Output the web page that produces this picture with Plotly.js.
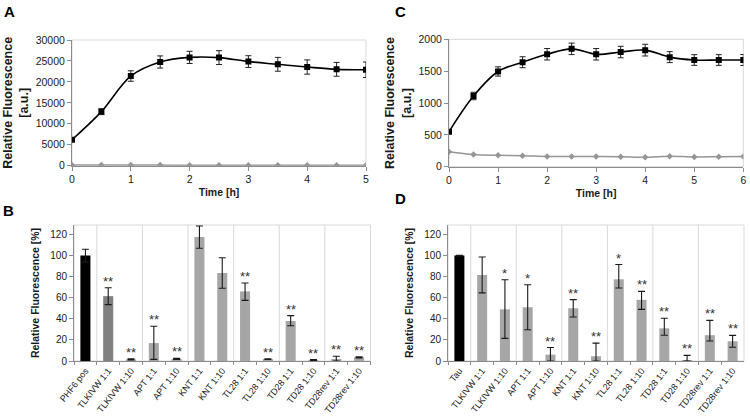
<!DOCTYPE html>
<html>
<head>
<meta charset="utf-8">
<script src="https://cdn.plot.ly/plotly-3.0.1.min.js"></script>
<style>html,body{margin:0;padding:0;background:#fff;}#chart{width:750px;height:416px;}</style>
</head>
<body>
<div id="chart"></div>
<script>
// ---- Panel A data ----
const timeA = [0, 0.5, 1, 1.5, 2, 2.5, 3, 3.5, 4, 4.5, 5];
const blackA = [6200, 12900, 21400, 24750, 25850, 25800, 24850, 24200, 23550, 23000, 22900];
const blackErrA = [300, 700, 1250, 1450, 1450, 1650, 1400, 1650, 1700, 1650, 1850];
const grayA = [150, 140, 140, 140, 130, 130, 130, 130, 120, 130, 120];

// ---- Panel C data ----
const timeC = [0, 0.5, 1, 1.5, 2, 2.5, 3, 3.5, 4, 4.5, 5, 5.5, 6];
const blackC = [550, 1110, 1495, 1640, 1765, 1850, 1765, 1800, 1830, 1720, 1675, 1675, 1675];
const blackErrC = [30, 58, 73, 86, 90, 90, 90, 90, 92, 86, 84, 84, 86];
const grayC = [235, 190, 178, 173, 162, 160, 160, 158, 147, 165, 152, 157, 160];

// ---- Panel B data ----
const catsB = ['PHF6 pos', 'TLKIVW 1:1', 'TLKIVW 1:10', 'APT 1:1', 'APT 1:10', 'KNT 1:1', 'KNT 1:10',
  'TL28 1:1', 'TL28 1:10', 'TD28 1:1', 'TD28 1:10', 'TD28rev 1:1', 'TD28rev 1:10'];
const valsB = [100, 61.5, 1.5, 17, 2, 117.5, 83.5, 66, 1.8, 38, 1, 2, 3.5];
const errPlusB = [6, 8, 0.5, 16, 0.5, 10.5, 14.5, 8, 0.4, 5, 0.4, 2.5, 0.5];
const errMinusB = [6, 8, 0.5, 15.5, 0.5, 10.5, 14.5, 8.5, 0.4, 4.5, 0.4, 2, 0.5];
const starsB = ['', '**', '**', '**', '**', '', '', '**', '**', '**', '**', '**', '**'];
const colorsB = ['#000000', '#808080', '#a6a6a6', '#a6a6a6', '#a6a6a6', '#a6a6a6', '#a6a6a6',
  '#a6a6a6', '#a6a6a6', '#a6a6a6', '#a6a6a6', '#a6a6a6', '#a6a6a6'];

// ---- Panel D data ----
const catsD = ['Tau', 'TLKIVW 1:1', 'TLKIVW 1:10', 'APT 1:1', 'APT 1:10', 'KNT 1:1', 'KNT 1:10',
  'TL28 1:1', 'TL28 1:10', 'TD28 1:1', 'TD28 1:10', 'TD28rev 1:1', 'TD28rev 1:10'];
const valsD = [100, 81.6, 49, 51, 6, 50, 4.5, 77.5, 58, 31, 1, 24.5, 18.7];
const errPlusD = [0.3, 17, 28, 21.3, 6.8, 8.2, 12.5, 14, 8, 9.6, 4.3, 14, 5.6];
const errMinusD = [0.3, 17, 27.5, 21.3, 6, 8.2, 4.5, 8.2, 9, 6.6, 1, 5.5, 5.6];
const starsD = ['', '', '*', '*', '**', '**', '**', '*', '**', '**', '**', '**', '**'];
const colorsD = ['#000000', '#a6a6a6', '#a6a6a6', '#a6a6a6', '#a6a6a6', '#a6a6a6', '#a6a6a6',
  '#a6a6a6', '#a6a6a6', '#a6a6a6', '#a6a6a6', '#a6a6a6', '#a6a6a6'];

const FONT = 'Liberation Sans, Arial, sans-serif';
const AXC = '#8c8c8c';
const FRAME = '#d9d9d9';
const W = 750, H = 416;
const px = (a, b) => [a / W, b / W];
const py = (top, bottom) => [1 - bottom / H, 1 - top / H];

function lineTraces(x, yb, eb, yg, xa, ya) {
  return [
    {x: x, y: yg, xaxis: xa, yaxis: ya, type: 'scatter', mode: 'lines+markers',
     line: {color: '#969696', width: 1.5, shape: 'spline', smoothing: 1},
     marker: {symbol: 'diamond', size: 5, color: '#969696'}, showlegend: false, hoverinfo: 'skip'},
    {x: x, y: yb, xaxis: xa, yaxis: ya, type: 'scatter', mode: 'lines+markers',
     line: {color: '#000000', width: 1.6, shape: 'spline', smoothing: 1},
     marker: {symbol: 'square', size: 6, color: '#000000'},
     error_y: {type: 'data', array: eb, visible: true, color: '#222', thickness: 1, width: 3},
     showlegend: false}
  ];
}
function barTrace(cats, vals, ep, em, colors, xa, ya) {
  return {x: cats, y: vals, xaxis: xa, yaxis: ya, type: 'bar',
    marker: {color: colors, line: {width: 0}},
    error_y: {type: 'data', symmetric: false, array: ep, arrayminus: em, visible: true,
      color: '#1a1a1a', thickness: 1.1, width: 3.5},
    showlegend: false};
}

const data = [
  ...lineTraces(timeA, blackA, blackErrA, grayA, 'x', 'y'),
  ...lineTraces(timeC, blackC, blackErrC, grayC, 'x2', 'y2'),
  barTrace(catsB, valsB, errPlusB, errMinusB, colorsB, 'x3', 'y3'),
  barTrace(catsD, valsD, errPlusD, errMinusD, colorsD, 'x4', 'y4')
];

const tickFont = {family: FONT, size: 10.5, color: '#1a1a1a'};
const catFont = {family: FONT, size: 9, color: '#1a1a1a'};
function numX(domain, range, anchor) {
  return {domain: domain, range: range, anchor: anchor, dtick: 1, showgrid: false, zeroline: false,
    showline: true, linecolor: AXC, linewidth: 1, ticks: 'outside', ticklen: 4, tickcolor: AXC,
    tickfont: tickFont,
    title: {text: '<b>Time [h]</b>', font: {family: FONT, size: 10.5, color: '#1a1a1a'}, standoff: 4}};
}
function numY(domain, range, dtick, anchor) {
  return {domain: domain, range: range, anchor: anchor, dtick: dtick, tickformat: 'd',
    showgrid: false, zeroline: false,
    showline: true, linecolor: AXC, linewidth: 1, ticks: 'outside', ticklen: 4, tickcolor: AXC,
    tickfont: tickFont,
    title: {text: '<b>Relative Fluorescence<br>[a.u.]</b>', font: {family: FONT, size: 12.5, color: '#1a1a1a'}, standoff: 4}};
}
function catX(domain, anchor) {
  return {domain: domain, anchor: anchor, type: 'category', tickangle: -52, showgrid: false, zeroline: false,
    showline: true, linecolor: AXC, linewidth: 1, ticks: 'outside', ticklen: 3, tickcolor: AXC,
    tickson: 'boundaries', tickfont: catFont};
}
function barY(domain, anchor) {
  return {domain: domain, range: [0, 129], dtick: 20, anchor: anchor, showgrid: false, zeroline: false,
    showline: true, linecolor: AXC, linewidth: 1, ticks: 'outside', ticklen: 4, tickcolor: AXC,
    tickfont: {family: FONT, size: 10, color: '#1a1a1a'},
    title: {text: '<b>Relative Fluorescence [%]</b>', font: {family: FONT, size: 10.5, color: '#1a1a1a'}, standoff: 8}};
}

const shapes = [];
[['x', 'y'], ['x2', 'y2'], ['x3', 'y3'], ['x4', 'y4']].forEach(([xa, ya]) => {
  shapes.push({type: 'rect', xref: xa + ' domain', yref: ya + ' domain', x0: 0, x1: 1, y0: 0, y1: 1,
    line: {color: FRAME, width: 1}, layer: 'below'});
});
function separators(cats, xa, ya) {
  for (let i = 1; i < cats.length; i++) {
    if (cats[i].split(' ')[0] !== cats[i - 1].split(' ')[0]) {
      shapes.push({type: 'line', xref: xa, yref: ya + ' domain', x0: i - 0.5, x1: i - 0.5, y0: 0, y1: 1,
        line: {color: FRAME, width: 1}, layer: 'below'});
    }
  }
}
separators(catsB, 'x3', 'y3');
separators(catsD, 'x4', 'y4');

const annotations = [];
function starNotes(cats, vals, ep, stars, xa, ya) {
  cats.forEach((c, i) => {
    if (stars[i]) annotations.push({x: c, y: vals[i] + ep[i], xref: xa, yref: ya, text: stars[i],
      showarrow: false, yanchor: 'bottom', xanchor: 'center', yshift: -3,
      font: {family: FONT, size: 13, color: '#333333'}});
  });
}
starNotes(catsB, valsB, errPlusB, starsB, 'x3', 'y3');
starNotes(catsD, valsD, errPlusD, starsD, 'x4', 'y4');
[['A', 9, 11], ['C', 400, 11], ['B', 8, 210], ['D', 400, 198]].forEach(([t, x, y]) => {
  annotations.push({text: '<b>' + t + '</b>', xref: 'paper', yref: 'paper', x: x / W, y: 1 - y / H,
    xanchor: 'center', yanchor: 'middle', showarrow: false, font: {family: FONT, size: 15, color: '#000'}});
});

const layout = {
  width: W, height: H, margin: {l: 0, r: 0, t: 0, b: 0}, paper_bgcolor: '#fff', plot_bgcolor: '#fff',
  showlegend: false, bargap: 0.56,
  xaxis: numX(px(72, 366), [0, 5], 'y'),
  yaxis: numY(py(40, 165.7), [0, 30000], 5000, 'x'),
  xaxis2: numX(px(449, 743.3), [0, 6], 'y2'),
  yaxis2: numY(py(39.3, 166.7), [0, 2000], 500, 'x2'),
  xaxis3: catX(px(74, 370.5), 'y3'),
  yaxis3: barY(py(225, 361), 'x3'),
  xaxis4: catX(px(448, 744), 'y4'),
  yaxis4: barY(py(225, 361), 'x4'),
  shapes: shapes, annotations: annotations
};

Plotly.newPlot('chart', data, layout, {displayModeBar: false, staticPlot: true});
</script>
</body>
</html>
